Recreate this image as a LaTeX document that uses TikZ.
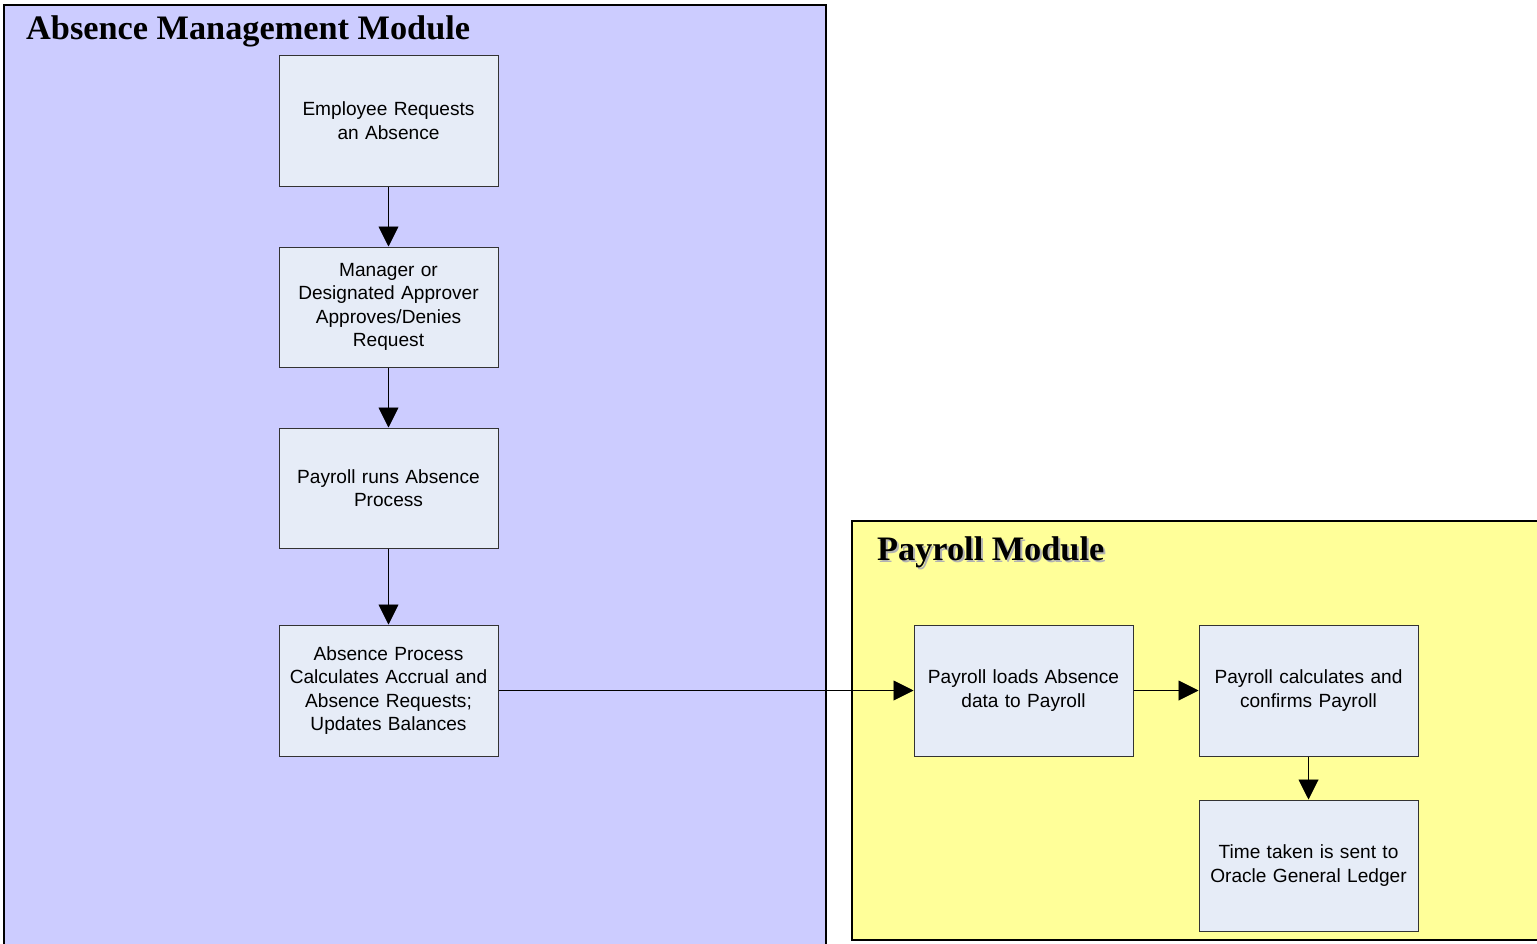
\documentclass[tikz,border=0pt]{standalone}
\usepackage{fontspec}
\setmainfont{Liberation Sans}
\newfontfamily\titlefont{Liberation Serif}
\usetikzlibrary{arrows.meta}
\definecolor{absfill}{HTML}{CCCCFF}
\definecolor{payfill}{HTML}{FFFF99}
\definecolor{stepfill}{HTML}{E6ECF7}
\definecolor{stepline}{HTML}{333333}
\tikzset{
  stepbox/.style={draw=stepline, line width=1pt, fill=stepfill, minimum width=219pt,
    text width=205pt, align=center, inner sep=0pt,
    font=\fontsize{19.1}{23.5}\selectfont},
  tallbox/.style={stepbox, minimum height=131pt},
  shortbox/.style={stepbox, minimum height=120pt},
  module/.style={draw=black, line width=2pt},
  title/.style={anchor=base west, inner sep=0pt, font=\titlefont\bfseries\fontsize{34.3}{40}\selectfont},
  flow/.style={draw=black, line width=0.9pt, -{Triangle[length=20pt,width=20pt]}}
}
\begin{document}
\begin{tikzpicture}[x=1pt,y=-1pt]
\useasboundingbox (0,0) rectangle (1537,943);
\begin{scope}
\clip (0,0) rectangle (1537,943);
% module panels
\fill[absfill] (4,5) rectangle (826,960);
\draw[module] (4,960) -- (4,5) -- (826,5) -- (826,960);
\fill[payfill] (852,521) rectangle (1560,940);
\draw[module] (1560,940) -- (852,940) -- (852,521) -- (1560,521);
\end{scope}
% panel titles
\node[title] (abstitle) at (26,39) {Absence Management Module};
\node[title, text=black!30] at (879,562) {Payroll Module};
\node[title] (paytitle) at (877,560) {Payroll Module};
% absence steps
\node[tallbox]  (req)     at (388.5,120.5) {Employee Requests\\an Absence};
\node[shortbox] (approve) at (388.5,307)   {Manager or\\Designated Approver\\Approves/Denies\\Request};
\node[shortbox] (run)     at (388.5,488)   {Payroll runs Absence\\Process};
\node[tallbox]  (calc)    at (388.5,690.5) {Absence Process\\Calculates Accrual and\\Absence Requests;\\Updates Balances};
% payroll steps
\node[tallbox] (load)    at (1023.5,690.5) {Payroll loads Absence\\data to Payroll};
\node[tallbox] (confirm) at (1308.5,690.5) {Payroll calculates and\\confirms Payroll};
\node[tallbox] (ledger)  at (1308.5,865.5) {Time taken is sent to\\Oracle General Ledger};
% connectors
\draw[flow] (req) -- (approve);
\draw[flow] (approve) -- (run);
\draw[flow] (run) -- (calc);
\draw[flow] (calc) -- (load);
\draw[flow] (load) -- (confirm);
\draw[flow] (confirm) -- (ledger);
\end{tikzpicture}
\end{document}
